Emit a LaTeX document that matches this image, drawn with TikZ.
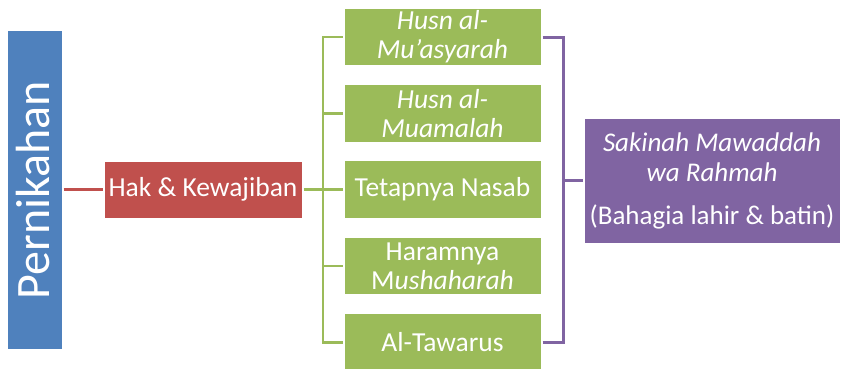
\documentclass[tikz,border=0pt]{standalone}
\usepackage{fontspec}
\setmainfont{Carlito}
\definecolor{cblue}{HTML}{4F81BD}
\definecolor{cred}{HTML}{C0504D}
\definecolor{cgreen}{HTML}{9BBB59}
\definecolor{cpurple}{HTML}{8064A2}
\begin{document}
\begin{tikzpicture}[x=1pt,y=-1pt,
  box/.style={rectangle, draw=white, line width=0.8pt, text=white, align=center, inner sep=0pt, outer sep=1.5pt},
  gbox/.style={box, fill=cgreen, minimum width=197pt, minimum height=57.5pt},
  big/.style={font=\fontsize{27.5}{30}\selectfont},
  twoline/.style={font=\fontsize{27.5}{29}\selectfont},
  redline/.style={draw=cred, line width=2.6pt},
  greenline/.style={draw=cgreen, line width=2.6pt},
  purpleline/.style={draw=cpurple, line width=3pt}]
\useasboundingbox (0,0) rectangle (842,368);
\node[box, fill=cblue, minimum width=55pt, minimum height=319pt] (per) at (34.5,189.5) {};
\node[text=white, rotate=90, font=\fontsize{48}{50}\selectfont, inner sep=0pt] (pertext) at (33,190) {Pernikahan};
\node[box, fill=cred, minimum width=198pt, minimum height=57pt, big] (hak) at (203,189.5) {Hak \& Kewajiban};
\node[gbox, twoline] (g1) at (442.5,37) {\itshape Husn al-\\\itshape Mu’asyarah};
\node[gbox, twoline] (g2) at (442.5,113.5) {\itshape Husn al-\\\itshape Muamalah};
\node[gbox, big] (g3) at (442.5,189.5) {Tetapnya Nasab};
\node[gbox, twoline] (g4) at (442.5,266) {Haramnya\\M\textit{ushaharah}};
\node[gbox, big] (g5) at (442.5,342.5) {Al-Tawarus};
\node[box, fill=cpurple, minimum width=256pt, minimum height=125pt, font=\fontsize{27}{30}\selectfont] (pur) at (712,180.5)
  {\itshape Sakinah Mawaddah\\\itshape wa Rahmah\\[13pt](Bahagia lahir \& batin)};
\coordinate (gt) at (323,189.5);
\coordinate (pt) at (563,180.5);
\draw[redline] (per.east) -- (hak.west);
\draw[greenline] (hak.east) -- (gt);
\foreach \g in {g1,g2,g3,g4,g5} \draw[greenline] (gt) |- (\g.west);
\draw[purpleline] (g1.east) -| (pt);
\draw[purpleline] (g5.east) -| (pt);
\draw[purpleline] (pt) -- (pur.west);
\end{tikzpicture}
\end{document}
